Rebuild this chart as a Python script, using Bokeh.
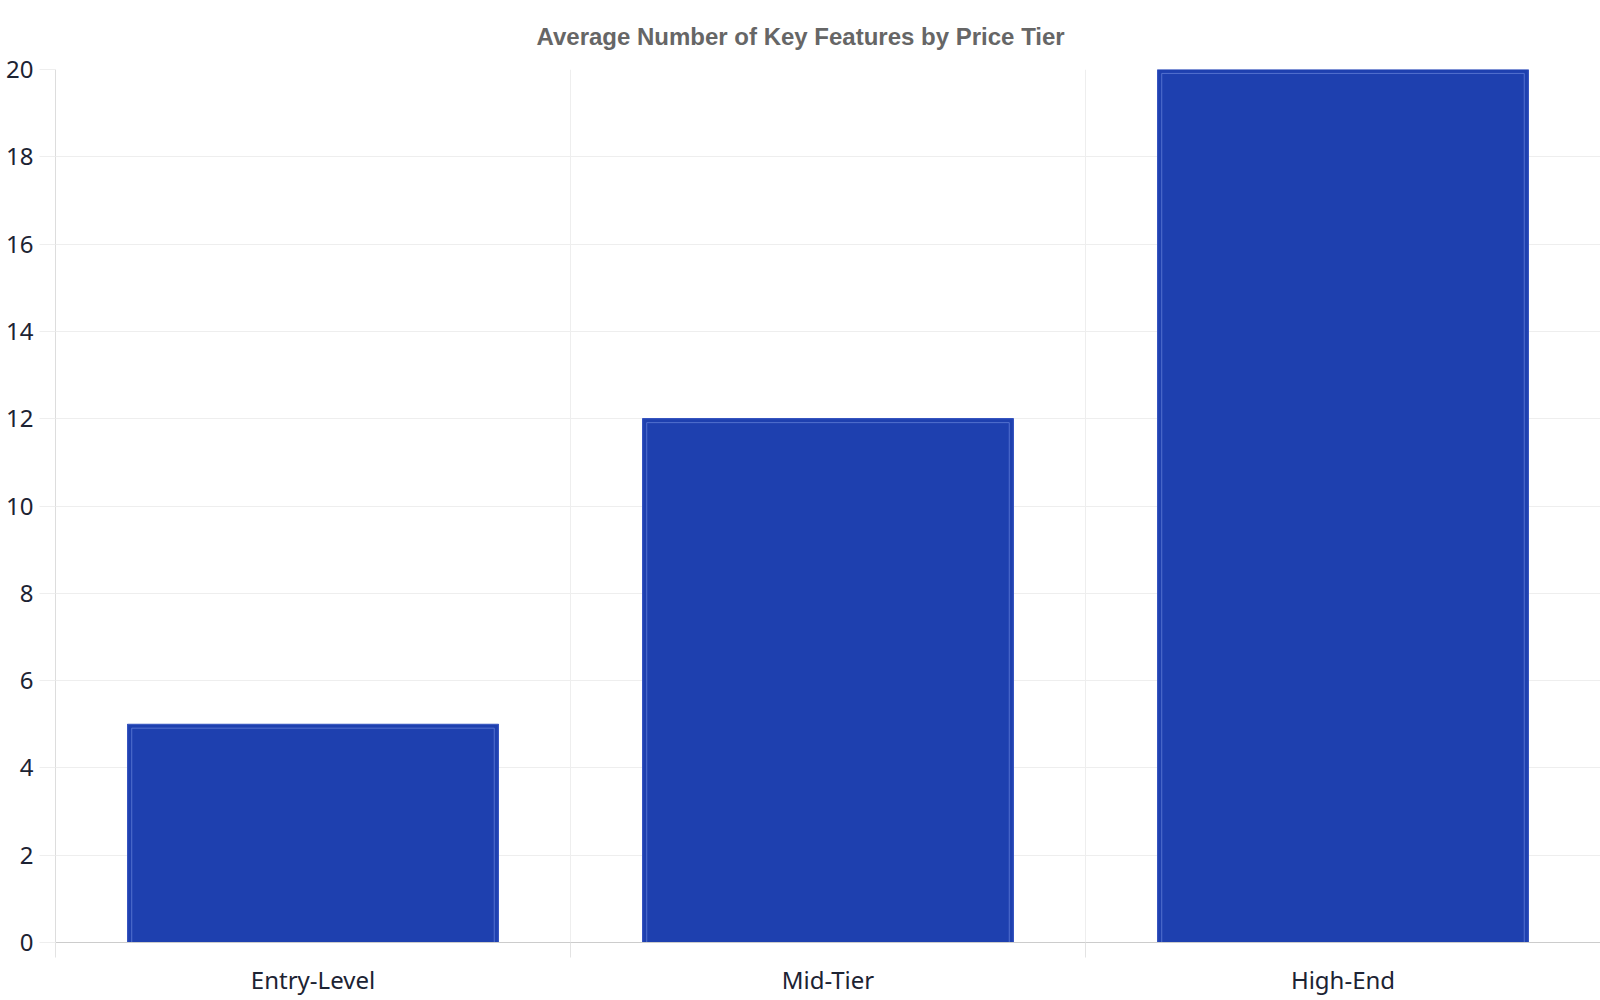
from bokeh.models import ColumnDataSource, Range1d, FixedTicker
from bokeh.plotting import figure
from bokeh.embed import file_html
from bokeh.resources import INLINE

# data
tiers = ["Entry-Level", "Mid-Tier", "High-End"]
avg_features = [5, 12, 20]
y_ticks = [0, 2, 4, 6, 8, 10, 12, 14, 16, 18, 20]

BAR_W = 0.72
centers = [i + 0.5 for i in range(len(tiers))]

src = ColumnDataSource(data=dict(
    x=centers,
    top=avg_features,
    inner_top=[v - 0.09 for v in avg_features],
))

p = figure(
    width=1600, height=1000,
    x_range=Range1d(0, len(tiers)), y_range=Range1d(0, 20),
    output_backend="svg", toolbar_location=None, tools="",
    min_border_left=55, min_border_right=0,
    min_border_top=69, min_border_bottom=58,
)
p.outline_line_color = None

# title is centred on the page, not on the frame, so place it from the left
p.title.text = "Average Number of Key Features by Price Tier"
p.title.align = "left"
p.title.offset = 481
p.title.text_font = "Liberation Sans"
p.title.text_font_style = "bold"
p.title.text_font_size = "24px"
p.title.text_color = "#666666"
p.title.standoff = 40

# bars, with a faint inner outline
p.vbar(x="x", top="top", bottom=0, width=BAR_W, source=src,
       fill_color="#1e40af", line_color="#3654c0", line_width=1.2)
p.vbar(x="x", top="inner_top", bottom=0, width=BAR_W - 0.016, source=src,
       fill_color=None, line_color="#6a84dc", line_alpha=0.7, line_width=1)

# x axis: labels at band centres, ticks/grid at band edges
edges = list(range(len(tiers) + 1))
p.xaxis.ticker = FixedTicker(ticks=centers, minor_ticks=edges)
p.xaxis.major_label_overrides = {c: t for c, t in zip(centers, tiers)}
p.xaxis.major_tick_line_color = None
p.xaxis.major_tick_out = 0
p.xaxis.minor_tick_line_color = "#e3e3e3"
p.xaxis.minor_tick_out = 15
p.xaxis.minor_tick_in = 0
p.xaxis.axis_line_color = "#cccccc"
p.xaxis.major_label_standoff = 5
p.xaxis.major_label_text_font = "Noto Sans"
p.xaxis.major_label_text_font_size = "24px"
p.xaxis.major_label_text_color = "#1c2333"
p.xgrid.ticker = FixedTicker(ticks=edges)
p.xgrid.grid_line_color = "#eeeeee"

# y axis
p.yaxis.ticker = FixedTicker(ticks=y_ticks)
p.yaxis.axis_line_color = "#dddddd"
p.yaxis.major_tick_line_color = "#eeeeee"
p.yaxis.major_tick_out = 16
p.yaxis.major_tick_in = 0
p.yaxis.minor_tick_line_color = None
p.yaxis.major_label_standoff = 6
p.yaxis.major_label_text_font = "Noto Sans"
p.yaxis.major_label_text_font_size = "24px"
p.yaxis.major_label_text_color = "#1c2333"
p.ygrid.ticker = FixedTicker(ticks=y_ticks)
p.ygrid.grid_line_color = "#eeeeee"

open("out.html", "w").write(file_html(p, INLINE))
